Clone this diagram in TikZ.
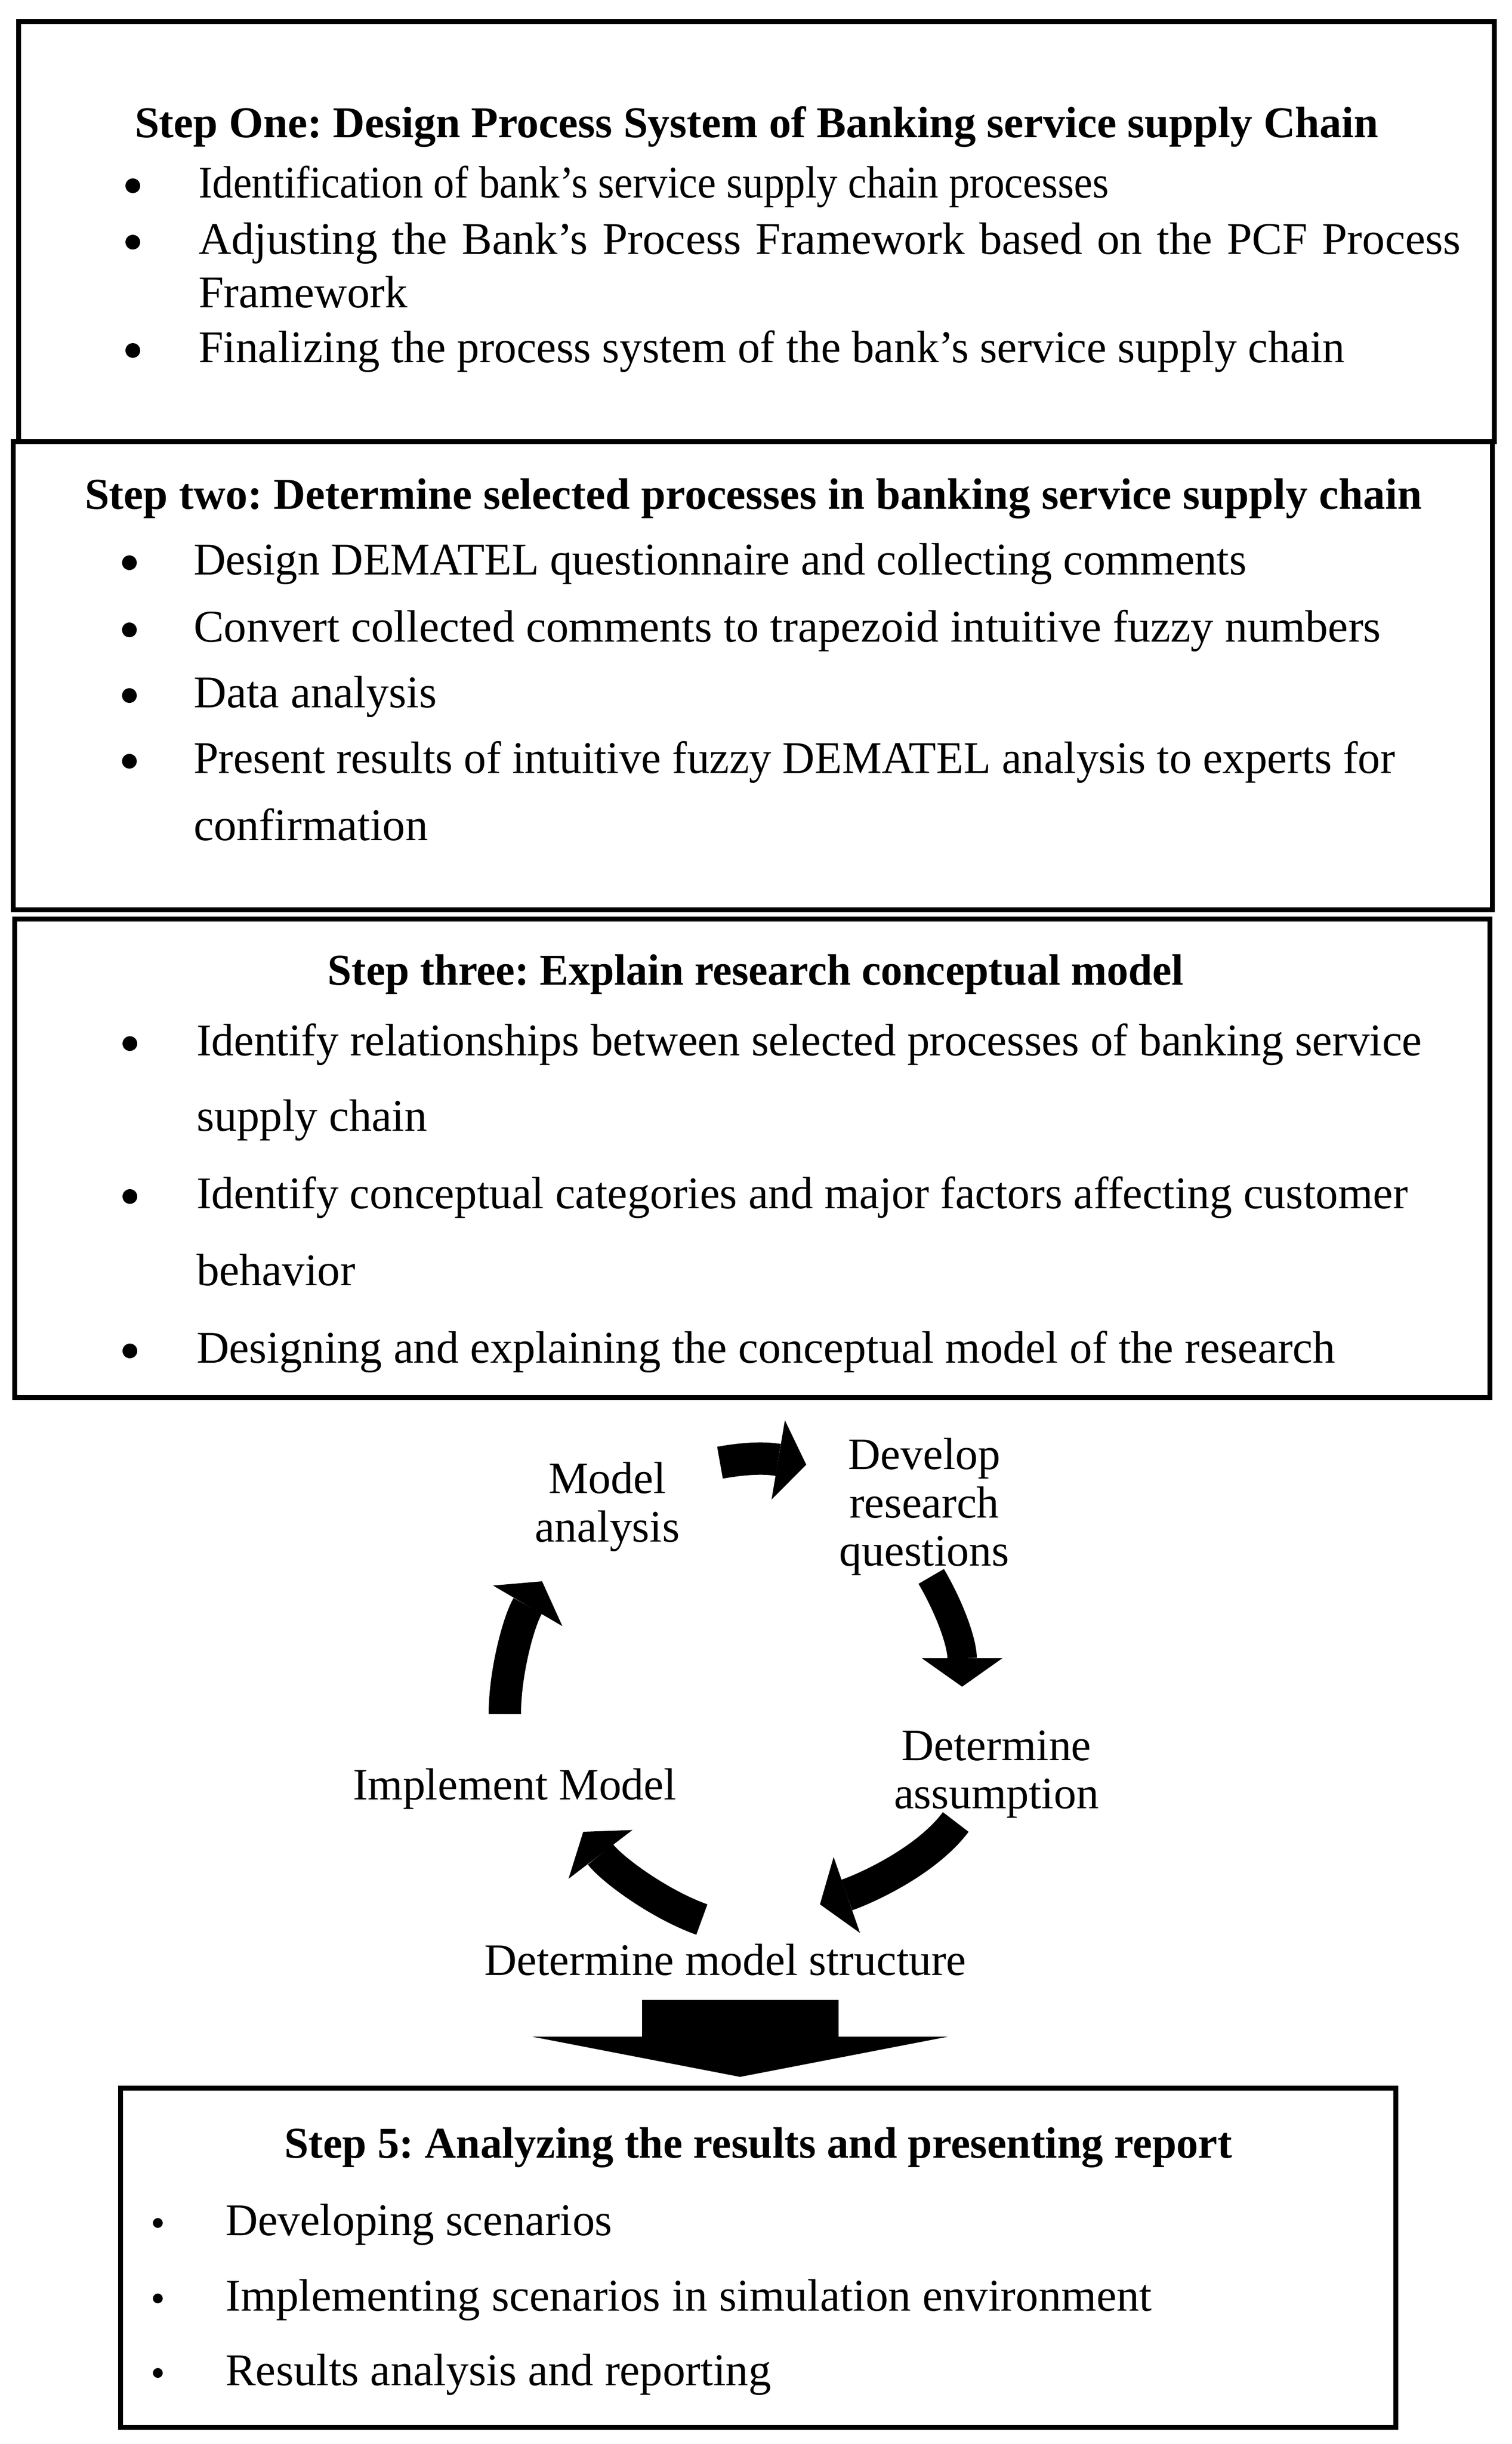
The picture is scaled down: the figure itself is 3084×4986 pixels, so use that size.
\documentclass[tikz,border=0pt]{standalone}
\usepackage{fontspec}
\usepackage{graphicx}
\setmainfont{Liberation Serif}
\usetikzlibrary{arrows.meta}
\newlength\fitlen
\newlength\linelen
\newcommand\fitsize[3]{%
  \settowidth\fitlen{\fontsize{10pt}{12pt}\selectfont\frenchspacing #3}%
  \pgfmathsetmacro\fittmp{(#2/\fitlen)*10}%
  \xdef#1{\fittmp}}
% set a line to a given width: stretch spaces, or squeeze horizontally if too long
\newcommand\fitline[2]{%
  \settowidth\linelen{#2}%
  \ifdim\linelen>#1\relax\resizebox{#1}{\height}{#2}\else\makebox[#1][s]{#2}\fi}
\newcommand\titlefont{\fontsize{\szT pt}{\szT pt}\selectfont\bfseries\frenchspacing}
\newcommand\bodyfont{\fontsize{\szB pt}{\szB pt}\selectfont\frenchspacing}
\newcommand\cycfont{\fontsize{\szC pt}{\szC pt}\selectfont\frenchspacing}
\tikzset{
  boxsty/.style={draw, line width=10pt, inner sep=0pt, outer sep=0pt, anchor=north west},
  ttl/.style={anchor=base, inner sep=0pt, font=\titlefont},
  ln/.style={anchor=base west, inner sep=0pt, font=\bodyfont},
  bdot/.style={circle, fill, draw=none, inner sep=0pt, minimum size=30pt},
  sdot/.style={circle, fill, draw=none, inner sep=0pt, minimum size=20pt},
  cyc/.style={anchor=base, inner sep=0pt, font=\cycfont},
  cycarrow/.style={line width=66pt, -{Triangle[length=58pt, width=164pt, line width=0pt]}},
  bigarrow/.style={line width=401pt, -{Triangle[length=82pt, width=848pt, line width=0pt]}},
}
\begin{document}%
\frenchspacing%
\fitsize\szT{2538}{\bfseries Step One: Design Process System of Banking service supply Chain}%
\fitsize\szB{2424}{Convert collected comments to trapezoid intuitive fuzzy numbers}%
\fitsize\szCa{651}{Implement Model}%
\fitsize\szCb{996}{Determine model structure}%
\pgfmathsetmacro\fittmp{0.5*(\szCa+\szCb)}\xdef\szC{\fittmp}%
\begin{tikzpicture}[x=1pt,y=-1pt]
\path[use as bounding box, fill=white] (0,0) rectangle (3084,4986);

% ---------- Box 1 ----------
\node[boxsty, minimum width=3011pt, minimum height=857pt] (box1) at (38,44) {};
\node[ttl] (t1) at (1544,280) {\fitline{2538pt}{Step One: Design Process System of Banking service supply Chain}};
\node[bdot] (d11) at (271,379) {};
\node[ln] (l11) at (405,403) {\fitline{1857pt}{Identification of bank's service supply chain processes}};
\node[bdot] (d12) at (271,494) {};
\node[ln] (l12) at (405,518) {\fitline{2575pt}{Adjusting the Bank's Process Framework based on the PCF Process}};
\node[ln] (l13) at (405,627) {Framework};
\node[bdot] (d14) at (271,715) {};
\node[ln] (l14) at (405,739) {\fitline{2339pt}{Finalizing the process system of the bank's service supply chain}};

% ---------- Box 2 ----------
\node[boxsty, minimum width=3018pt, minimum height=955pt] (box2) at (27,901) {};
\node[ttl] (t2) at (1537,1038) {\fitline{2728pt}{Step two: Determine selected processes in banking service supply chain}};
\node[bdot] (d21) at (264,1148) {};
\node[ln] (l21) at (395,1172) {\fitline{2148pt}{Design DEMATEL questionnaire and collecting comments}};
\node[bdot] (d22) at (264,1285) {};
\node[ln] (l22) at (395,1309) {\fitline{2422pt}{Convert collected comments to trapezoid intuitive fuzzy numbers}};
\node[bdot] (d23) at (264,1419) {};
\node[ln] (l23) at (395,1443) {Data analysis};
\node[bdot] (d24) at (264,1553) {};
\node[ln] (l24) at (395,1577) {\fitline{2451pt}{Present results of intuitive fuzzy DEMATEL analysis to experts for}};
\node[ln] (l25) at (395,1714) {confirmation};

% ---------- Box 3 ----------
\node[boxsty, minimum width=3010pt, minimum height=976pt] (box3) at (30,1875) {};
\node[ttl] (t3) at (1542,2009) {\fitline{1746pt}{Step three: Explain research conceptual model}};
\node[bdot] (d31) at (265,2129) {};
\node[ln] (l31) at (401,2153) {\fitline{2500pt}{Identify relationships between selected processes of banking service}};
\node[ln] (l32) at (401,2307) {supply chain};
\node[bdot] (d33) at (265,2441) {};
\node[ln] (l33) at (401,2465) {\fitline{2471pt}{Identify conceptual categories and major factors affecting customer}};
\node[ln] (l34) at (401,2622) {behavior};
\node[bdot] (d35) at (265,2756) {};
\node[ln] (l35) at (401,2780) {\fitline{2323pt}{Designing and explaining the conceptual model of the research}};

% ---------- Cycle labels ----------
\node[cyc] (ma1) at (1239,3046) {Model};
\node[cyc] (ma2) at (1239,3145) {analysis};
\node[cyc] (dq1) at (1886,2997) {Develop};
\node[cyc] (dq2) at (1886,3096) {research};
\node[cyc] (dq3) at (1886,3194) {questions};
\node[cyc] (da1) at (2033,3591) {Determine};
\node[cyc] (da2) at (2033,3689) {assumption};
\node[cyc] (im) at (1050,3671) {Implement Model};
\node[cyc] (dm) at (1480,4029) {Determine model structure};

% ---------- Cycle arrows ----------
\coordinate (a1s) at (1469,2984); \coordinate (a1e) at (1645,2988);
\coordinate (a2s) at (1900,3216); \coordinate (a2e) at (1963,3441);
\coordinate (a3s) at (1950,3717); \coordinate (a3e) at (1673,3885);
\coordinate (a4s) at (1432,3916); \coordinate (a4e) at (1190,3737);
\coordinate (a5s) at (1030,3497); \coordinate (a5e) at (1106,3226);
\draw[cycarrow] (a1s) .. controls (1513,2976) and (1556,2973) .. (a1e);
\draw[cycarrow, line width=60pt] (a2s) .. controls (1938,3281) and (1963,3351) .. (a2e);
\draw[cycarrow] (a3s) .. controls (1890,3797) and (1768,3852) .. (a3e);
\draw[cycarrow] (a4s) .. controls (1343,3884) and (1248,3813) .. (a4e);
\draw[cycarrow] (a5s) .. controls (1030,3412) and (1058,3308) .. (a5e);

% ---------- Big arrow ----------
\coordinate (bigA) at (1510,4080);
\coordinate (bigB) at (1510,4237);
\draw[bigarrow] (bigA) -- (bigB);

% ---------- Box 5 ----------
\node[boxsty, minimum width=2602pt, minimum height=692pt] (box5) at (246,4260) {};
\node[ttl] (t5) at (1547,4402) {\fitline{1934pt}{Step 5: Analyzing the results and presenting report}};
\node[sdot] (d51) at (322,4535) {};
\node[ln] (l51) at (460,4560) {\fitline{789pt}{Developing scenarios}};
\node[sdot] (d52) at (322,4689) {};
\node[ln] (l52) at (460,4714) {\fitline{1890pt}{Implementing scenarios in simulation environment}};
\node[sdot] (d53) at (322,4841) {};
\node[ln] (l53) at (460,4866) {\fitline{1113pt}{Results analysis and reporting}};
\end{tikzpicture}%
\end{document}
